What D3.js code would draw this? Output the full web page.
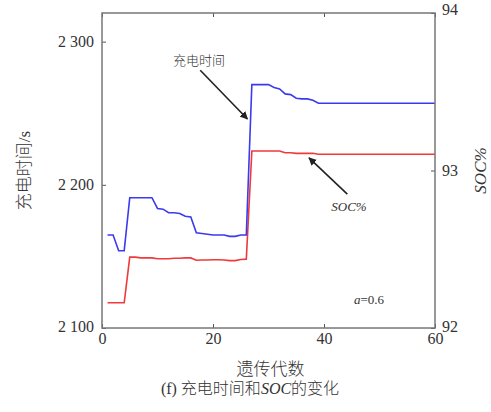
<!DOCTYPE html>
<html>
<head>
<meta charset="utf-8">
<script src="https://cdn.jsdelivr.net/npm/d3@7"></script>
<style>
  body { margin: 0; background: #fff; }
  svg text { font-family: "Liberation Serif", "Noto Sans CJK SC", serif; fill: #333; }
  .cjk { font-family: "Liberation Serif", "Noto Sans CJK SC", sans-serif; font-weight: 300; }
</style>
</head>
<body>
<svg id="chart"></svg>
<script>
// generations 1..60
const gens = d3.range(1, 61);

// charging time (s), left axis
const chargeTime = [
  2165, 2165, 2154, 2154, 2191, 2191, 2191, 2191, 2191, 2183.5,
  2183, 2180.5, 2180.5, 2180, 2178, 2177.5, 2166.5, 2166, 2165.5, 2165,
  2165, 2165, 2164, 2164, 2165, 2165, 2270, 2270, 2270, 2270,
  2268, 2267, 2263.5, 2263, 2260.5, 2260, 2260, 2259, 2257, 2257,
  2257, 2257, 2257, 2257, 2257, 2257, 2257, 2257, 2257, 2257,
  2257, 2257, 2257, 2257, 2257, 2257, 2257, 2257, 2257, 2257
];

// SOC %, right axis
const soc = [
  92.16, 92.16, 92.16, 92.16, 92.45, 92.45, 92.445, 92.445, 92.445, 92.44,
  92.44, 92.44, 92.443, 92.443, 92.445, 92.445, 92.43, 92.432, 92.432, 92.433,
  92.433, 92.432, 92.428, 92.428, 92.435, 92.437, 93.124, 93.124, 93.124, 93.124,
  93.124, 93.124, 93.113, 93.113, 93.109, 93.109, 93.109, 93.109, 93.103, 93.103,
  93.103, 93.103, 93.103, 93.103, 93.103, 93.103, 93.103, 93.103, 93.103, 93.103,
  93.103, 93.103, 93.103, 93.103, 93.103, 93.103, 93.103, 93.103, 93.103, 93.103
];

const xTicks = [0, 20, 40, 60];
const leftTicks = [2100, 2200, 2300];
const rightTicks = [92, 93, 94];

const width = 491;
const height = 412;
const margin = { top: 13, right: 56, bottom: 84, left: 102 };

const svg = d3.select("#chart").attr("width", width).attr("height", height);

const x = d3.scaleLinear().domain([0, 60]).range([margin.left, width - margin.right]);
const yL = d3.scaleLinear().domain([2100, 2320]).range([height - margin.bottom, margin.top]);
const yR = d3.scaleLinear().domain([92, 94]).range([height - margin.bottom, margin.top]);

const x0 = margin.left, x1 = width - margin.right;
const y0 = height - margin.bottom, y1 = margin.top;

// lines
const blueLine = d3.line().x((d, i) => x(gens[i])).y(d => yL(d));
const redLine = d3.line().x((d, i) => x(gens[i])).y(d => yR(d));

svg.append("path").datum(soc)
  .attr("d", redLine).attr("fill", "none")
  .attr("stroke", "#ee3a3a").attr("stroke-width", 1.6);

svg.append("path").datum(chargeTime)
  .attr("d", blueLine).attr("fill", "none")
  .attr("stroke", "#3a3aee").attr("stroke-width", 1.6);

// axes, ticks pointing inward
const tickFont = "16px";
const axisColor = "#777";

const gBottom = svg.append("g").attr("transform", `translate(0,${y0})`)
  .call(d3.axisBottom(x).tickValues(xTicks).tickSize(-4).tickPadding(8));
const gTop = svg.append("g").attr("transform", `translate(0,${y1})`)
  .call(d3.axisTop(x).tickValues(xTicks).tickSize(-4).tickFormat(""));
const gLeft = svg.append("g").attr("transform", `translate(${x0},0)`)
  .call(d3.axisLeft(yL).tickValues(leftTicks).tickSize(-4).tickPadding(8)
    .tickFormat(d => d3.format(",")(d).replace(",", " ")));
const gRight = svg.append("g").attr("transform", `translate(${x1},0)`)
  .call(d3.axisRight(yR).tickValues(rightTicks).tickSize(-4).tickPadding(7)
    .tickFormat(d3.format("d")));

[gBottom, gTop, gLeft, gRight].forEach(g => {
  g.select(".domain").remove();
  g.selectAll(".tick line").attr("stroke", "#555").attr("stroke-width", 1);
  g.selectAll("text").style("font-size", tickFont).attr("fill", "#333");
});
gBottom.selectAll(".tick text").attr("dy", "0.5em");
gRight.selectAll(".tick text").each(function(d) {
  if (d === 94) d3.select(this).attr("dy", "0.1em");
  if (d === 92) d3.select(this).attr("dy", "0.2em");
});
gLeft.selectAll(".tick text").each(function(d) {
  if (d === 2100) d3.select(this).attr("dy", "0.2em");
});

svg.append("rect")
  .attr("x", x0).attr("y", y1).attr("width", x1 - x0).attr("height", y0 - y1)
  .attr("fill", "none").attr("stroke", axisColor).attr("stroke-width", 1.5);

// axis titles
svg.append("text").attr("class", "cjk")
  .attr("transform", `translate(26,${(y0 + y1) / 2}) rotate(-90)`)
  .attr("text-anchor", "middle").attr("dominant-baseline", "middle")
  .style("font-size", "17px").text("充电时间/s");

svg.append("text")
  .attr("transform", `translate(482,${(y0 + y1) / 2}) rotate(-90)`)
  .attr("text-anchor", "middle").attr("dominant-baseline", "middle")
  .style("font-size", "17px").style("font-style", "italic").text("SOC%");

svg.append("text").attr("class", "cjk")
  .attr("x", (x0 + x1) / 2 + 2).attr("y", 375)
  .attr("text-anchor", "middle").style("font-size", "17px").text("遗传代数");

const cap = svg.append("text").attr("class", "cjk")
  .attr("x", 250).attr("y", 394)
  .attr("text-anchor", "middle").style("font-size", "16px");
cap.append("tspan").text("(f) 充电时间和");
cap.append("tspan").style("font-style", "italic").text("SOC");
cap.append("tspan").text("的变化");

// annotations (data coordinates)
svg.append("defs").append("marker")
  .attr("id", "arr").attr("viewBox", "0 0 10 10")
  .attr("refX", 9).attr("refY", 5)
  .attr("markerWidth", 5).attr("markerHeight", 5)
  .attr("orient", "auto")
  .append("path").attr("d", "M0,0 L10,5 L0,10 z").attr("fill", "#222");

const timeArrow = { from: [17.7, 2280], to: [26.2, 2246] };
const socArrow = { from: [44.2, 92.85], to: [37.3, 93.08] };

svg.append("line")
  .attr("x1", x(timeArrow.from[0])).attr("y1", yL(timeArrow.from[1]))
  .attr("x2", x(timeArrow.to[0])).attr("y2", yL(timeArrow.to[1]))
  .attr("stroke", "#222").attr("stroke-width", 1.6).attr("marker-end", "url(#arr)");

svg.append("line")
  .attr("x1", x(socArrow.from[0])).attr("y1", yR(socArrow.from[1]))
  .attr("x2", x(socArrow.to[0])).attr("y2", yR(socArrow.to[1]))
  .attr("stroke", "#222").attr("stroke-width", 1.6).attr("marker-end", "url(#arr)");

svg.append("text").attr("class", "cjk")
  .attr("x", 199).attr("y", 65).attr("text-anchor", "middle")
  .style("font-size", "13px").text("充电时间");

svg.append("text")
  .attr("x", 349).attr("y", 211).attr("text-anchor", "middle")
  .style("font-size", "13px").style("font-style", "italic").text("SOC%");

const aLabel = svg.append("text")
  .attr("x", 369).attr("y", 304).attr("text-anchor", "middle")
  .style("font-size", "13px");
aLabel.append("tspan").style("font-style", "italic").text("a");
aLabel.append("tspan").text("=0.6");
</script>
</body>
</html>
